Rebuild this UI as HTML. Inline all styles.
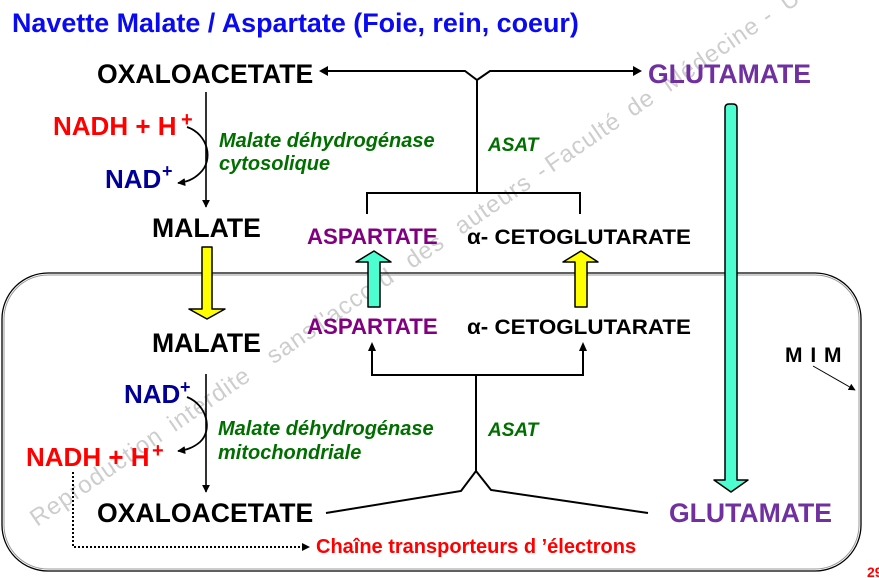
<!DOCTYPE html>
<html>
<head>
<meta charset="utf-8">
<style>
html,body{margin:0;padding:0;background:#fff;}
svg{display:block;}
text{font-family:"Liberation Sans",Arial,sans-serif;}
.b{font-weight:bold;}
.g{font-weight:bold;font-style:italic;fill:#006f00;}
</style>
</head>
<body>
<svg width="879" height="578" viewBox="0 0 879 578" xmlns="http://www.w3.org/2000/svg">
<defs>
<marker id="ah" viewBox="0 0 10 10" refX="9" refY="5" markerWidth="8" markerHeight="8" markerUnits="userSpaceOnUse" orient="auto">
<path d="M0,0 L10,5 L0,10 z" fill="#000"/>
</marker>
<marker id="ah2" viewBox="0 0 10 10" refX="9" refY="5" markerWidth="7" markerHeight="7" markerUnits="userSpaceOnUse" orient="auto">
<path d="M0,0 L10,5 L0,10 z" fill="#000"/>
</marker>
</defs>

<!-- watermark -->
<g transform="rotate(-34.5 37 527)" fill="#cdcdcd" font-size="24" style="letter-spacing:1px">
<text x="37" y="527">Reproduction</text>
<text x="204" y="527">interdite</text>
<text x="324" y="527">sans</text>
<text x="383" y="527">l'accord</text>
<text x="492" y="527">des</text>
<text x="552" y="527">auteurs</text>
<text x="650" y="527">-</text>
<text x="662" y="527">Faculté</text>
<text x="760" y="527">de</text>
<text x="804" y="527">Médecine</text>
<text x="924" y="527">-</text>
<text x="947" y="527">Université</text>
</g>

<!-- mitochondrial membrane box -->
<rect x="2" y="273" width="859" height="298" rx="46" ry="46" fill="none" stroke="#000" stroke-width="1.3"/>
<rect x="4" y="275" width="855" height="294" rx="44" ry="44" fill="none" stroke="#9a9a9a" stroke-width="1"/>

<!-- title -->
<text x="12" y="32" class="b" font-size="26.9" fill="#0a0af0">Navette Malate / Aspartate (Foie, rein, coeur)</text>

<!-- top labels -->
<text x="97" y="83" class="b" font-size="26.6" fill="#000">OXALOACETATE</text>
<text x="648" y="83" class="b" font-size="26.6" fill="#7030a0">GLUTAMATE</text>

<!-- top connector -->
<path d="M328,71 H465 L477,80 L490,71 H634" fill="none" stroke="#000" stroke-width="2"/>
<path d="M328,66 L319,71 L328,76 z" fill="#000"/>
<path d="M633,66 L642,71 L633,76 z" fill="#000"/>
<path d="M477,80 V193 M367,193 H580 M367,192 V214 M580,192 V214" fill="none" stroke="#000" stroke-width="2"/>
<text x="488" y="151" class="g" font-size="19">ASAT</text>

<!-- left cytosolic -->
<text x="53" y="135" class="b" font-size="26" fill="#ff0000">NADH + H</text>
<text x="181" y="126" class="b" font-size="20" fill="#ff0000">+</text>
<text x="105" y="188" class="b" font-size="26" fill="#000099">NAD</text>
<text x="162" y="177" class="b" font-size="18" fill="#000099">+</text>
<line x1="206" y1="92" x2="206" y2="207" stroke="#000" stroke-width="1.6" marker-end="url(#ah)"/>
<path d="M187,127 C208,134 214,160 200,173 C193,180 186,182 178,183" fill="none" stroke="#000" stroke-width="1.8" marker-end="url(#ah)"/>
<text x="219" y="147" class="g" font-size="20">Malate déhydrogénase</text>
<text x="219" y="170" class="g" font-size="20">cytosolique</text>
<text x="152" y="237" class="b" font-size="26.6" fill="#000">MALATE</text>

<!-- aspartate / ketoglutarate top -->
<text x="307" y="244" class="b" font-size="22.2" fill="#800080">ASPARTATE</text>
<text x="467" y="244" class="b" font-size="21.5" fill="#000" textLength="224" lengthAdjust="spacingAndGlyphs">α- CETOGLUTARATE</text>

<!-- transport arrows -->
<path d="M202,247 H212 V309 H225 L207,319 L189,309 H202 Z" fill="#ffff00" stroke="#000" stroke-width="1.5" stroke-linejoin="round"/>
<path d="M368,307 H380 V262 H391 L374,251 L356,262 H368 Z" fill="#4dffd0" stroke="#000" stroke-width="1.5" stroke-linejoin="round"/>
<path d="M575,307 H587 V262 H598 L581,251 L563,262 H575 Z" fill="#ffff00" stroke="#000" stroke-width="1.5" stroke-linejoin="round"/>
<path d="M725,108 Q725,104 729,104 H733 Q737,104 737,108 V480 H748 L731,492 L714,480 H725 Z" fill="#4dffd0" stroke="#000" stroke-width="1.5" stroke-linejoin="round"/>

<!-- mitochondrial side -->
<text x="152" y="352" class="b" font-size="26.6" fill="#000">MALATE</text>
<text x="307" y="334" class="b" font-size="22.2" fill="#800080">ASPARTATE</text>
<text x="467" y="334" class="b" font-size="21.5" fill="#000" textLength="224" lengthAdjust="spacingAndGlyphs">α- CETOGLUTARATE</text>

<path d="M372,350 V375 H583 V350" fill="none" stroke="#000" stroke-width="2"/>
<path d="M368,351 L372,342 L376,351 z" fill="#000"/>
<path d="M579,351 L583,342 L587,351 z" fill="#000"/>
<path d="M476,375 V471 M326,513 L461,491 L476,471 L491,490 L648,513" fill="none" stroke="#000" stroke-width="2" stroke-linejoin="miter"/>
<text x="488" y="436" class="g" font-size="19">ASAT</text>

<text x="124" y="403" class="b" font-size="26" fill="#000099">NAD</text>
<text x="180" y="393" class="b" font-size="18" fill="#000099">+</text>
<text x="26" y="466" class="b" font-size="26" fill="#ff0000">NADH + H</text>
<text x="152" y="457" class="b" font-size="20" fill="#ff0000">+</text>
<line x1="206" y1="374" x2="206" y2="492" stroke="#000" stroke-width="1.6" marker-end="url(#ah)"/>
<path d="M187,397 C207,405 213,430 200,442 C193,448 186,450 178,451" fill="none" stroke="#000" stroke-width="1.8" marker-end="url(#ah)"/>
<text x="218" y="435" class="g" font-size="20">Malate déhydrogénase</text>
<text x="218" y="459" class="g" font-size="20">mitochondriale</text>

<text x="97" y="522" class="b" font-size="26.6" fill="#000">OXALOACETATE</text>
<text x="669" y="522" class="b" font-size="26.6" fill="#7030a0">GLUTAMATE</text>

<!-- dotted arrow to ETC -->
<path d="M73,472 V547 H302" fill="none" stroke="#000" stroke-width="2" stroke-dasharray="2,2"/>
<path d="M302,543 L310,547 L302,551 z" fill="#000"/>
<text x="316" y="553" class="b" font-size="20" fill="#ff0000">Chaîne transporteurs d ’électrons</text>

<!-- MIM -->
<text x="785" y="362" class="b" font-size="21" fill="#000" style="letter-spacing:1px">M I M</text>
<line x1="813" y1="366" x2="855" y2="390" stroke="#000" stroke-width="1" marker-end="url(#ah2)"/>

<text x="867" y="577" class="b" font-size="14" fill="#ff0000">29</text>
</svg>
</body>
</html>
